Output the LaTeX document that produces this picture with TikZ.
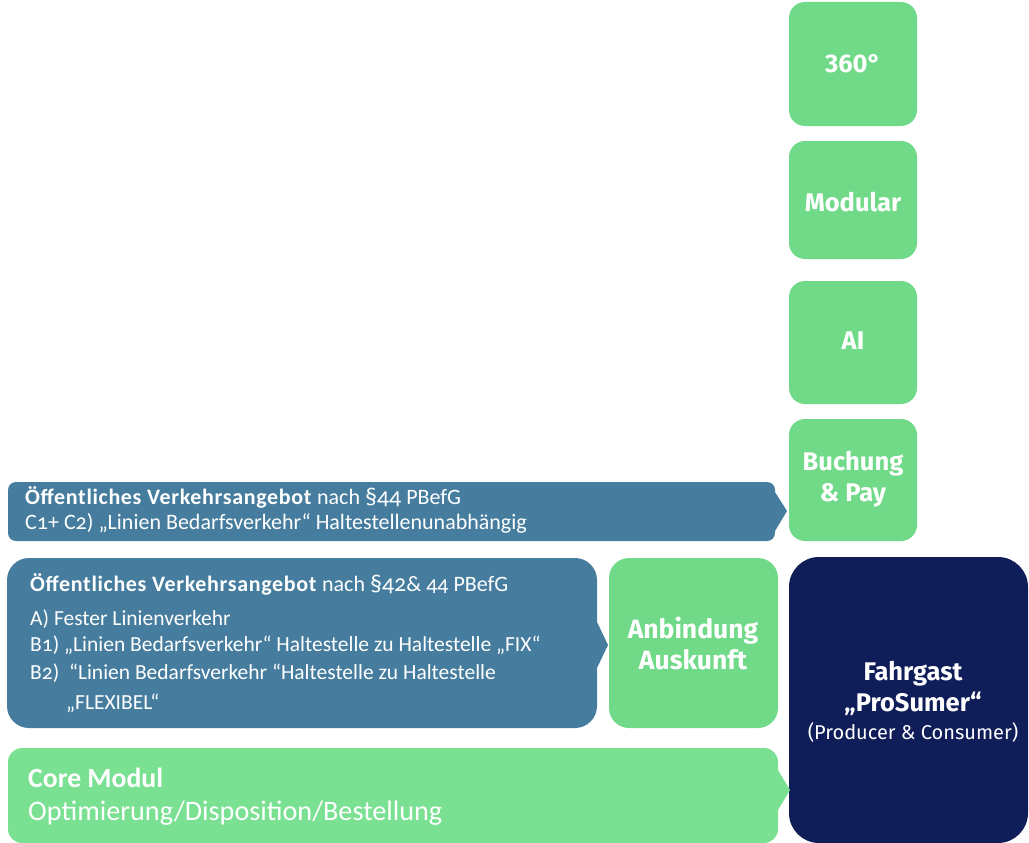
\documentclass[tikz,border=0pt]{standalone}
\usepackage{fontspec}
\setmainfont{Fira Sans}
\newfontfamily\condfont[Numbers=OldStyle,BoldFeatures={LetterSpace=3}]{Carlito}
\newfontfamily\corefont[Numbers=OldStyle]{Carlito}
\definecolor{boxgreen}{HTML}{71DA89}
\definecolor{coregreen}{HTML}{7AE192}
\definecolor{steelblue}{HTML}{467D9E}
\definecolor{navy}{HTML}{0F1D59}
\tikzset{
  lbl/.style={text=white,font=\fontsize{25.5}{31}\selectfont\bfseries,align=center,inner sep=0pt},
  ltxt/.style={text=white,font=\condfont\fontsize{22}{26}\selectfont,anchor=west,inner sep=0pt},
  itxt/.style={text=white,font=\condfont\fontsize{21.5}{26}\selectfont,anchor=west,inner sep=0pt},
}
\begin{document}
\begin{tikzpicture}[x=1pt,y=-1pt]
\useasboundingbox (0,0) rectangle (1029,843);
% right column
\fill[boxgreen,rounded corners=16] (789,2) rectangle (917,126);
\fill[boxgreen,rounded corners=16] (789,141) rectangle (917,259);
\fill[boxgreen,rounded corners=16] (789,281) rectangle (917,404);
\fill[boxgreen,rounded corners=16] (789,419) rectangle (917,541);
\node[lbl] (n360) at (853,64) {360°};
\node[lbl] (nmod) at (853,202) {Modular};
\node[lbl] (nai) at (853,341) {AI};
\node[lbl] (nbuch) at (853,479) {Buchung\\\& Pay};
% top blue arrow
\fill[steelblue] (8,541) [rounded corners=8] -- (8,482) -- (775,482) [sharp corners] -- (775,492) -- (787,511) -- (775,531) [rounded corners=8] -- (775,541) -- cycle;
\node[ltxt] (t1a) at (25,497) {\textbf{Öffentliches Verkehrsangebot} nach {\fontsize{24}{26}\selectfont §44} PBefG};
\node[ltxt] (t1b) at (25,523) {C1+ C2) „Linien Bedarfsverkehr“ Haltestellenunabhängig};
% middle blue box
\fill[steelblue] (7,728) [rounded corners=22] -- (7,558) -- (597,558) [sharp corners] -- (597,622) -- (608,645) -- (597,668) [rounded corners=22] -- (597,728) -- cycle;
\node[ltxt] (t2a) at (30,584) {\textbf{Öffentliches Verkehrsangebot} nach {\fontsize{24}{26}\selectfont §42}\& 44 PBefG};
\node[itxt] (t2b) at (30,619) {A) Fester Linienverkehr};
\node[itxt] (t2c) at (30,645) {B1) „Linien Bedarfsverkehr“ Haltestelle zu Haltestelle „FIX“};
\node[itxt] (t2d) at (30,673) {B2)\ \ “Linien Bedarfsverkehr “Haltestelle zu Haltestelle};
\node[itxt] (t2e) at (66,703) {„FLEXIBEL“};
% Anbindung
\fill[boxgreen,rounded corners=20] (609,558) rectangle (778,728);
\node[lbl,font=\fontsize{26.5}{31}\selectfont\bfseries] (nanb) at (693,643) {Anbindung\\Auskunft};
% Fahrgast
\fill[navy,rounded corners=30] (789,557) rectangle (1028,843);
\node[lbl] (nfahr) at (913,688) {Fahrgast\\„ProSumer“};
\node[text=white,font=\fontsize{20}{24}\selectfont,inner sep=0pt] (nprod) at (913,732) {(Producer \& Consumer)};
% Core Modul
\fill[coregreen] (8,843) [rounded corners=14] -- (8,748) -- (778,748) [sharp corners] -- (778,770) -- (790,790) -- (778,810) [rounded corners=14] -- (778,843) -- cycle;
\node[ltxt,font=\corefont\fontsize{27.7}{31}\selectfont\bfseries] (c1) at (28,778) {Core Modul};
\node[ltxt,font=\corefont\fontsize{28.2}{31}\selectfont] (c2) at (28,813) {Optimierung/Disposition/Bestellung};
\end{tikzpicture}
\end{document}
